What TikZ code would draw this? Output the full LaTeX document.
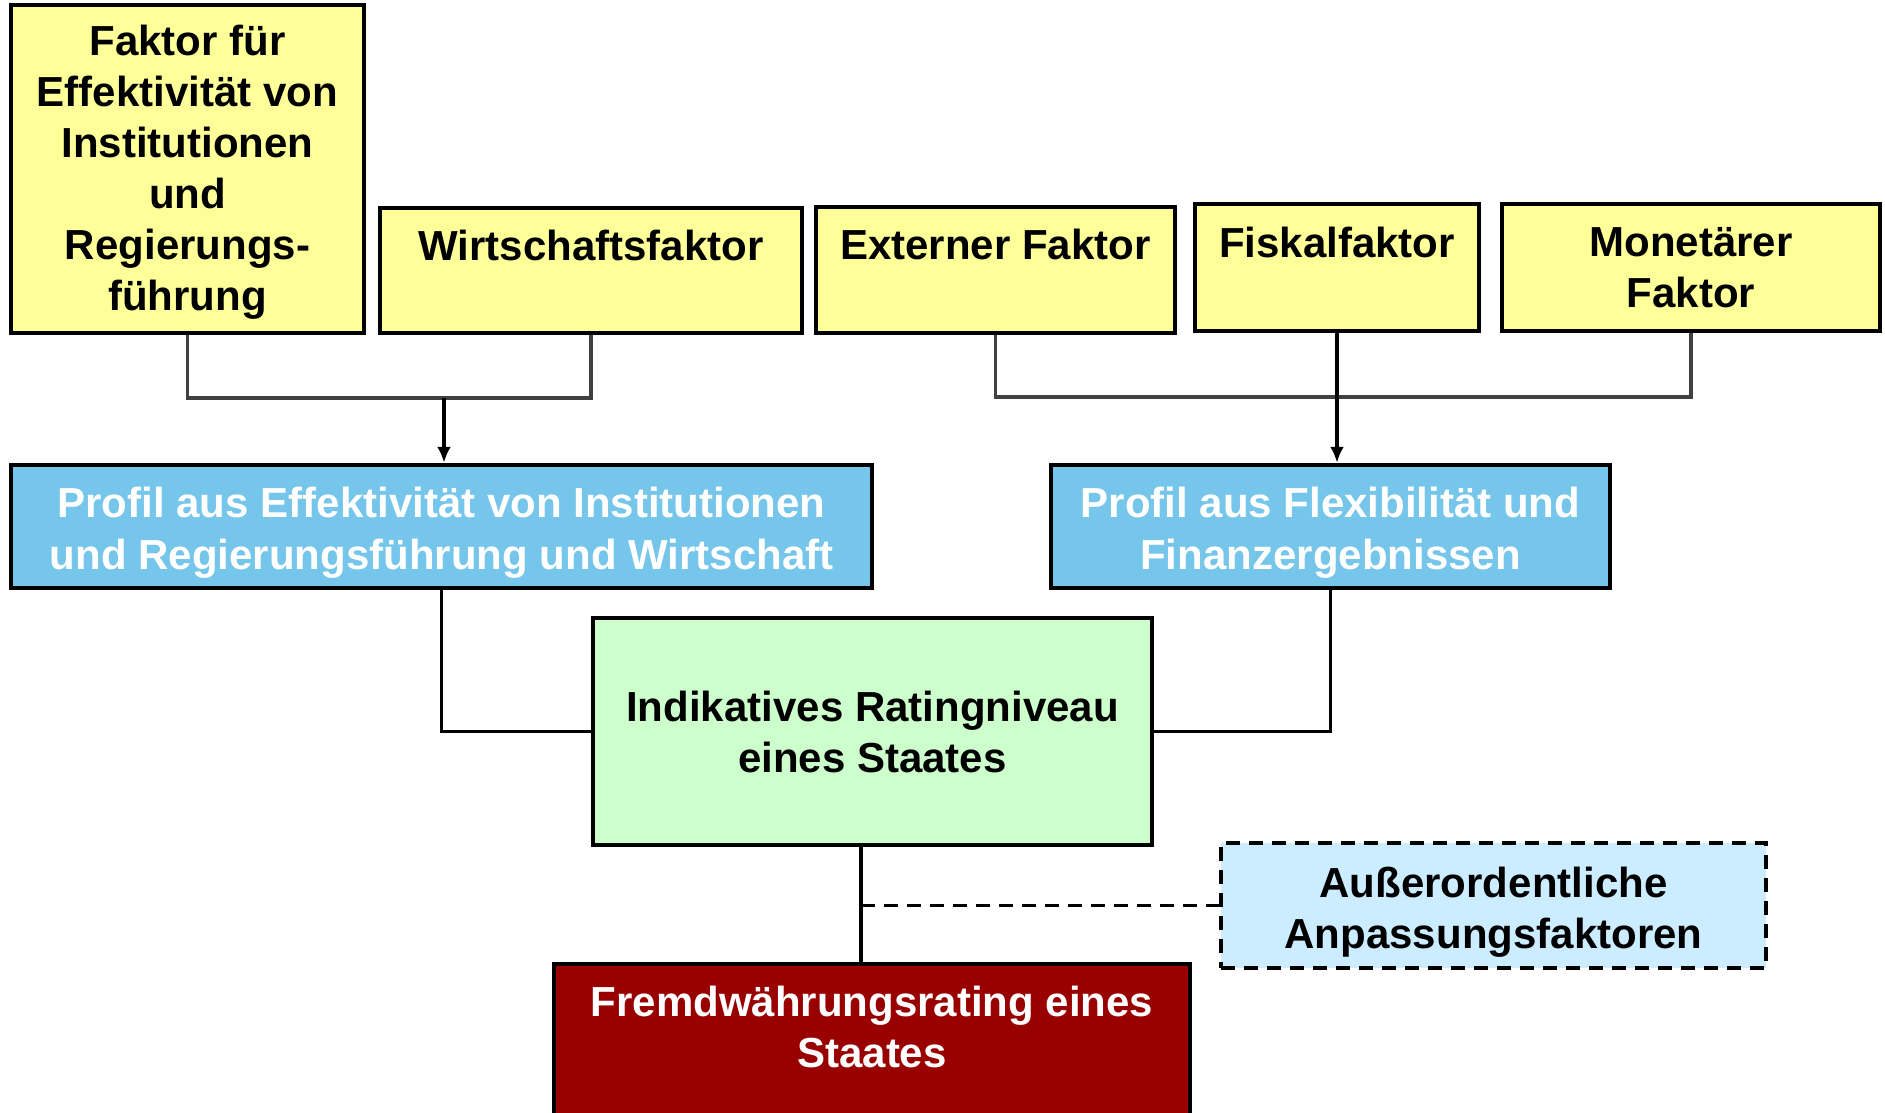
\documentclass[tikz,border=0pt]{standalone}
\usepackage{fontspec}
\setmainfont{Liberation Sans}
\usetikzlibrary{arrows.meta}
\definecolor{boxyellow}{HTML}{FFFF99}
\definecolor{boxblue}{HTML}{75C6EA}
\definecolor{boxgreen}{HTML}{CCFFCC}
\definecolor{boxlight}{HTML}{CCECFF}
\definecolor{boxred}{HTML}{990000}
\definecolor{linegray}{HTML}{404040}
\newcommand{\upstrut}[1]{\rule{0pt}{#1}}
\begin{document}
\begin{tikzpicture}[x=1pt,y=-1pt,
  box/.style={draw=black, line width=4.5pt, align=center, inner sep=0pt,
    font=\fontsize{42}{51}\selectfont\bfseries},
  yellowbox/.style={box, fill=boxyellow},
  bluebox/.style={box, fill=boxblue, text=white,
    font=\fontsize{42}{52}\selectfont\bfseries},
  greenbox/.style={box, fill=boxgreen},
  lightbox/.style={box, fill=boxlight, line width=4pt, dash pattern=on 14pt off 9pt},
  redbox/.style={box, fill=boxred, text=white},
  grayline/.style={draw=linegray, line width=3.5pt},
  blackline/.style={draw=black, line width=3.5pt},
  arrowline/.style={draw=black, line width=3.8pt, -{Latex[length=16pt,width=14pt]}}
]
\useasboundingbox (0,0) rectangle (1885,1113);
\fill[white] (0,0) rectangle (1885,1113);

% top factor boxes
\node[yellowbox, minimum width=353pt, minimum height=328pt] (f1) at (187.5,169)
  {\upstrut{37.8pt}Faktor für\\Effektivität von\\Institutionen\\und\\Regierungs-\\führung};
\node[yellowbox, minimum width=422pt, minimum height=125pt] (f2) at (591,270.5)
  {Wirtschaftsfaktor\\~};
\node[yellowbox, minimum width=359pt, minimum height=126pt] (f3) at (995.5,270)
  {Externer Faktor\\~};
\node[yellowbox, minimum width=284pt, minimum height=127pt] (f4) at (1337,267.5)
  {Fiskalfaktor\\~};
\node[yellowbox, minimum width=378pt, minimum height=127pt] (f5) at (1691,267.5)
  {Monetärer\\Faktor};

% profile boxes
\node[bluebox, minimum width=861pt, minimum height=123pt] (b1) at (441.5,526.5)
  {\upstrut{43.8pt}Profil aus Effektivität von Institutionen\\und Regierungsführung und Wirtschaft};
\node[bluebox, minimum width=559pt, minimum height=123pt] (b2) at (1330.5,526.5)
  {\upstrut{43.8pt}Profil aus Flexibilität und\\Finanzergebnissen};

% indicative rating
\node[greenbox, minimum width=559pt, minimum height=227pt] (g) at (872.5,731.5)
  {Indikatives Ratingniveau\\eines Staates};

% adjustment factors
\node[lightbox, minimum width=545pt, minimum height=125pt] (adj) at (1493.5,905.5)
  {\upstrut{44.6pt}Außerordentliche\\Anpassungsfaktoren};

% final rating
\node[redbox, minimum width=636pt, minimum height=177pt] (r) at (872,1052.5)
  {Fremdwährungsrating eines\\Staates\\~};

% junction coordinates
\coordinate (jl) at (444,398);
\coordinate (jr) at (1337,397);
\coordinate (gb) at (861,845);
\coordinate (gd) at (861,905.5);

% left group connector
\draw[grayline] (f1.south) -- (f1.south |- jl) -- (f2.south |- jl) -- (f2.south);
\draw[arrowline] (jl) -- (jl |- b1.north);

% right group connector
\draw[grayline] (f3.south) -- (f3.south |- jr) -- (f5.south |- jr) -- (f5.south);
\draw[arrowline] (f4.south) -- (f4.south |- b2.north);

% profiles to indicative rating
\draw[blackline] (b1.south) |- (g.west);
\draw[blackline] (b2.south) |- (g.east);

% indicative rating to final rating
\draw[blackline] (gb) -- (gb |- r.north);
\draw[black, line width=3.5pt, dash pattern=on 14pt off 9pt] (gd) -- (adj.west);
\end{tikzpicture}
\end{document}
